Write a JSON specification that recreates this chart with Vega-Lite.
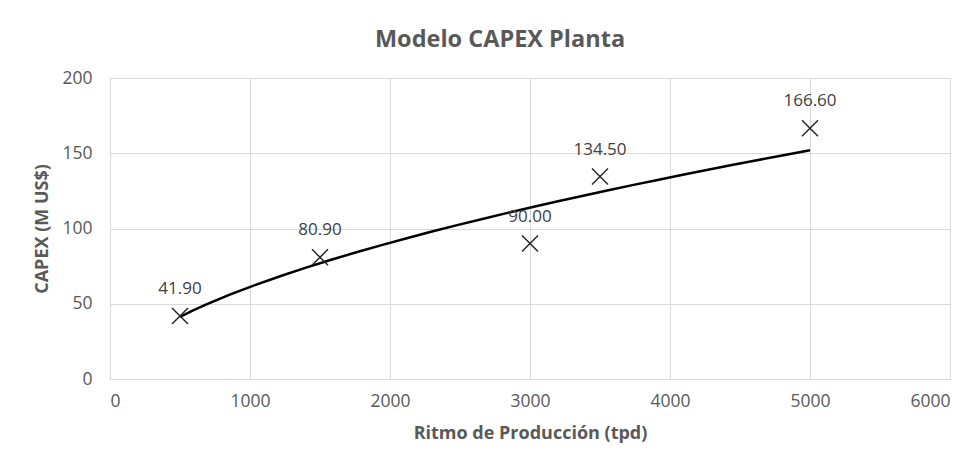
{
  "$schema": "https://vega.github.io/schema/vega-lite/v6.json",
  "autosize": "none",
  "width": 840,
  "height": 301,
  "padding": {"left": 110, "top": 78, "right": 29, "bottom": 84},
  "background": "white",
  "title": {
    "text": "Modelo CAPEX Planta",
    "font": "Open Sans",
    "fontSize": 23.5,
    "fontWeight": "bold",
    "color": "#595959",
    "anchor": "middle",
    "dx": -30,
    "offset": 18
  },
  "data": {
    "values": [
      {"ritmo": 500, "capex": 41.9},
      {"ritmo": 1500, "capex": 80.9},
      {"ritmo": 3000, "capex": 90.0},
      {"ritmo": 3500, "capex": 134.5},
      {"ritmo": 5000, "capex": 166.6}
    ]
  },
  "encoding": {
    "x": {
      "field": "ritmo",
      "type": "quantitative",
      "scale": {"domain": [0, 6000], "nice": false},
      "axis": {
        "title": "Ritmo de Producción  (tpd)",
        "values": [0, 1000, 2000, 3000, 4000, 5000, 6000],
        "format": "d",
        "grid": true,
        "gridColor": "#d9d9d9",
        "domain": true,
        "domainColor": "#d9d9d9",
        "ticks": false,
        "labelPadding": 13,
        "labelFont": "Open Sans",
        "labelFontSize": 17.5,
        "labelColor": "#595959",
        "titleFont": "Open Sans",
        "titleFontSize": 18,
        "titleFontWeight": "bold",
        "titleColor": "#595959",
        "titlePadding": 15
      }
    },
    "y": {
      "field": "capex",
      "type": "quantitative",
      "scale": {"domain": [0, 200], "nice": false},
      "axis": {
        "title": "CAPEX (M US$)",
        "values": [0, 50, 100, 150, 200],
        "grid": true,
        "gridColor": "#d9d9d9",
        "domain": false,
        "ticks": false,
        "labelPadding": 18,
        "labelFont": "Open Sans",
        "labelFontSize": 17.5,
        "labelColor": "#595959",
        "titleFont": "Open Sans",
        "titleFontSize": 18,
        "titleFontWeight": "bold",
        "titleColor": "#595959",
        "titlePadding": 10
      }
    }
  },
  "layer": [
    {
      "transform": [
        {"regression": "capex", "on": "ritmo", "method": "pow", "extent": [500, 5000]}
      ],
      "mark": {"type": "line", "color": "#000000", "strokeWidth": 2.5}
    },
    {
      "mark": {
        "type": "point",
        "shape": "M-1,-1L1,1M-1,1L1,-1",
        "filled": false,
        "stroke": "#262626",
        "strokeWidth": 1.5,
        "size": 256,
        "opacity": 1
      }
    },
    {
      "mark": {
        "type": "text",
        "dy": -27,
        "font": "Open Sans",
        "fontSize": 17,
        "color": "#404040"
      },
      "encoding": {
        "text": {"field": "capex", "type": "quantitative", "format": ".2f"}
      }
    }
  ],
  "config": {
    "view": {"stroke": null}
  }
}
